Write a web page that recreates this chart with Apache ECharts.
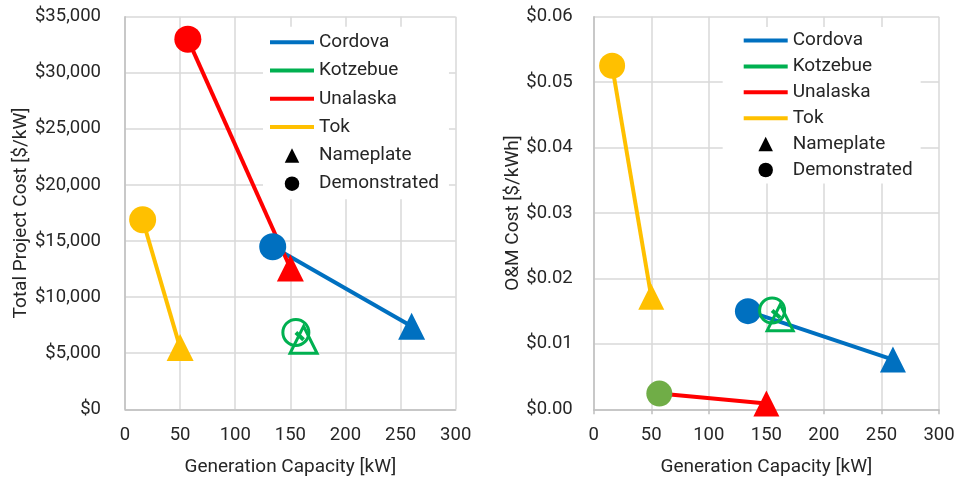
<!DOCTYPE html>
<html>
<head>
<meta charset="utf-8">
<title>Generation capacity vs. cost</title>
<script src="https://cdn.jsdelivr.net/npm/echarts/dist/echarts.min.js"></script>
<style>
  html, body { margin: 0; padding: 0; background: #fff; }
  #chart { width: 958px; height: 485px; }
</style>
</head>
<body>
<div id="chart"></div>
<script>
// ---- data ----
const sites = ['Cordova', 'Kotzebue', 'Unalaska', 'Tok'];
// generation capacity [kW]
const capacityDemonstrated = [134, 155, 57, 16];
const capacityNameplate = [260, 162, 150, 50];
// total project cost [$/kW]
const projectCostDemonstrated = [14500, 6850, 33000, 16900];
const projectCostNameplate = [7400, 6200, 12600, 5500];
// O&M cost [$/kWh]
const omCostDemonstrated = [0.0150, 0.0151, 0.0024, 0.0525];
const omCostNameplate = [0.0076, 0.0140, 0.0009, 0.0172];
// axis ticks
const xTicks = [0, 50, 100, 150, 200, 250, 300];
const projectCostTicks = [0, 5000, 10000, 15000, 20000, 25000, 30000, 35000];
const omCostTicks = [0, 0.01, 0.02, 0.03, 0.04, 0.05, 0.06];
const markerNames = ['Nameplate', 'Demonstrated'];

// ---- styles ----
const siteColors = ['#0070C0', '#00B050', '#FF0000', '#FFC000'];
const omDemonstratedColors = ['#0070C0', '#00B050', '#70AD47', '#FFC000'];
const hollowSites = ['Kotzebue'];
const FONT = 'Roboto';
const TEXT = '#262626';
const GRID_LINE = '#D9D9D9';
const AXIS_LINE = '#BFBFBF';

const barIcon = 'path://M0,0L44,0L44,4L0,4Z';
const triIcon = 'path://M7,0L14,14L0,14Z';

function legendItems() {
  return sites.map(s => ({ name: s, icon: barIcon }))
    .concat([{ name: markerNames[0], icon: triIcon }, { name: markerNames[1], icon: 'circle' }]);
}

function makeAxes(gridIndex, yTicks, yFmt, yName, yNameGap, yLabelMargin, xTickShow) {
  const xAxis = {
    gridIndex, type: 'value',
    min: xTicks[0], max: xTicks[xTicks.length - 1], interval: xTicks[1] - xTicks[0],
    name: 'Generation Capacity [kW]', nameLocation: 'middle', nameGap: 48,
    nameTextStyle: { fontFamily: FONT, fontSize: 19, color: TEXT },
    axisLine: { show: true, lineStyle: { color: AXIS_LINE, width: 1.5 } },
    axisTick: { show: xTickShow, length: 5, lineStyle: { color: AXIS_LINE, width: 1.5 } },
    axisLabel: { fontFamily: FONT, fontSize: 18.5, color: TEXT, margin: 17 },
    splitLine: { show: true, lineStyle: { color: GRID_LINE, width: 1.5 } }
  };
  const yAxis = {
    gridIndex, type: 'value',
    min: yTicks[0], max: yTicks[yTicks.length - 1], interval: yTicks[1] - yTicks[0],
    name: yName, nameLocation: 'middle', nameGap: yNameGap, nameRotate: 90,
    nameTextStyle: { fontFamily: FONT, fontSize: 19, color: TEXT },
    axisLine: { show: true, lineStyle: { color: AXIS_LINE, width: 1.5 } },
    axisTick: { show: false },
    axisLabel: { fontFamily: FONT, fontSize: 18.5, color: TEXT, margin: yLabelMargin, formatter: yFmt },
    splitLine: { show: true, lineStyle: { color: GRID_LINE, width: 1.5 } }
  };
  return { xAxis, yAxis };
}

function makeSeries(axisIndex, demY, nameY, demColors, symSize) {
  const out = [];
  // connector line for each site: demonstrated -> nameplate
  sites.forEach((s, i) => {
    out.push({
      type: 'line', name: s, xAxisIndex: axisIndex, yAxisIndex: axisIndex,
      symbol: 'none', silent: true, z: 2,
      itemStyle: { color: siteColors[i] },
      lineStyle: { color: siteColors[i], width: 4 },
      data: [[capacityDemonstrated[i], demY[i]], [capacityNameplate[i], nameY[i]]]
    });
  });
  const markerItem = (x, y, color, site, size) => {
    if (hollowSites.includes(site)) {
      return { value: [x, y], symbolSize: size - 1,
        itemStyle: { color: 'rgba(0,0,0,0)', borderColor: color, borderWidth: 3, opacity: 1 } };
    }
    return { value: [x, y], itemStyle: { color, opacity: 1 } };
  };
  out.push({
    type: 'scatter', name: markerNames[0], xAxisIndex: axisIndex, yAxisIndex: axisIndex,
    symbol: 'triangle', symbolSize: symSize, silent: true, z: 3,
    itemStyle: { color: '#000', opacity: 1 },
    data: sites.map((s, i) => markerItem(capacityNameplate[i], nameY[i], siteColors[i], s, symSize + 1))
  });
  out.push({
    type: 'scatter', name: markerNames[1], xAxisIndex: axisIndex, yAxisIndex: axisIndex,
    symbol: 'circle', symbolSize: symSize, silent: true, z: 3,
    itemStyle: { color: '#000', opacity: 1 },
    data: sites.map((s, i) => markerItem(capacityDemonstrated[i], demY[i], demColors[i], s, symSize))
  });
  return out;
}

const left = makeAxes(0, projectCostTicks,
  v => '$' + v.toLocaleString('en-US'), 'Total Project Cost [$/kW]', 93, 24, false);
const right = makeAxes(1, omCostTicks,
  v => '$' + v.toFixed(2), 'O&M Cost [$/kWh]', 71, 21, true);

const legendBase = {
  orient: 'vertical', backgroundColor: '#fff', selectedMode: false,
  itemWidth: 44, itemHeight: 14.5,
  textStyle: { fontFamily: FONT, fontSize: 19, color: TEXT },
  data: legendItems()
};

const option = {
  animation: false,
  backgroundColor: '#fff',
  grid: [
    { left: 125, top: 16.7, width: 330.7, height: 392.6 },
    { left: 593.7, top: 16.7, width: 345.3, height: 392.6 }
  ],
  xAxis: [left.xAxis, right.xAxis],
  yAxis: [left.yAxis, right.yAxis],
  legend: [
    Object.assign({}, legendBase, { left: 263, top: 26.7, padding: [6, 10, 6, 7], itemGap: 9.3 }),
    Object.assign({}, legendBase, { left: 722.7, top: 27, padding: [4, 8, 4, 21], itemGap: 6.9 })
  ],
  series: makeSeries(0, projectCostDemonstrated, projectCostNameplate, siteColors, 27)
    .concat(makeSeries(1, omCostDemonstrated, omCostNameplate, omDemonstratedColors, 26))
};

const chart = echarts.init(document.getElementById('chart'), null, { renderer: 'canvas' });
chart.setOption(option);
</script>
</body>
</html>
